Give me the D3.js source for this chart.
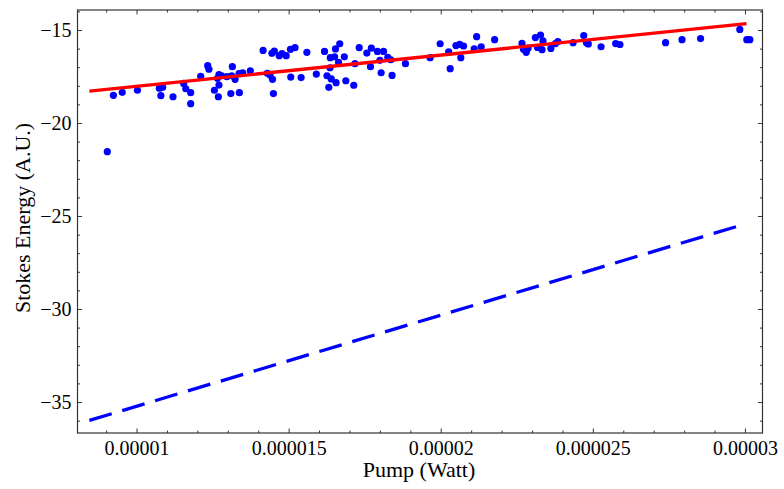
<!DOCTYPE html>
<html>
<head>
<meta charset="utf-8">
<script src="https://cdn.jsdelivr.net/npm/d3@7"></script>
<style>
  html, body { margin: 0; padding: 0; background: #fff; }
  svg { display: block; }
  svg text { font-family: "Liberation Serif", "DejaVu Serif", serif !important; fill: #000; }
</style>
</head>
<body>
<svg id="chart" width="784" height="489"></svg>
<script>
// Measured points: pump power (W) and Stokes energy (A.U.)
const pumpW = [
  9.04e-6, 9.24e-6, 9.53e-6, 10.03e-6, 10.75e-6, 10.86e-6, 10.80e-6, 11.20e-6, 11.55e-6, 11.62e-6,
  11.78e-6, 11.78e-6, 12.11e-6, 12.34e-6, 12.38e-6, 12.56e-6, 12.69e-6, 12.66e-6, 12.71e-6, 12.71e-6,
  12.80e-6, 12.97e-6, 13.13e-6, 13.15e-6, 13.24e-6, 13.10e-6, 13.38e-6, 13.37e-6, 13.49e-6, 13.74e-6,
  14.16e-6, 14.30e-6, 14.39e-6, 14.47e-6, 14.50e-6, 14.45e-6, 14.53e-6, 14.69e-6, 14.78e-6, 14.92e-6,
  15.06e-6, 15.21e-6, 15.07e-6, 15.41e-6, 15.60e-6, 15.91e-6, 16.18e-6, 16.26e-6, 16.37e-6, 16.36e-6,
  16.40e-6, 16.32e-6, 16.51e-6, 16.54e-6, 16.68e-6, 16.56e-6, 16.64e-6, 16.83e-6, 16.88e-6, 17.14e-6,
  17.18e-6, 17.32e-6, 17.57e-6, 17.72e-6, 17.69e-6, 17.92e-6, 18.12e-6, 18.00e-6, 18.04e-6, 18.26e-6,
  18.36e-6, 18.40e-6, 18.84e-6, 19.65e-6, 19.98e-6, 20.26e-6, 20.31e-6, 20.50e-6, 20.62e-6, 20.75e-6,
  20.66e-6, 21.10e-6, 21.18e-6, 21.33e-6, 21.77e-6, 22.67e-6, 22.72e-6, 22.81e-6, 22.87e-6, 23.11e-6,
  23.28e-6, 23.36e-6, 23.18e-6, 23.33e-6, 23.62e-6, 23.77e-6, 23.85e-6, 24.35e-6, 24.70e-6, 24.79e-6,
  24.85e-6, 25.27e-6, 25.75e-6, 25.89e-6, 27.39e-6, 27.93e-6, 28.54e-6, 29.83e-6, 30.06e-6, 30.16e-6
];
const stokes = [
  -21.54, -18.51, -18.35, -18.24, -18.13, -18.08, -18.53, -18.59, -17.87, -18.16,
  -18.37, -18.96, -17.49, -16.92, -17.11, -18.24, -18.59, -17.60, -17.40, -17.96,
  -17.46, -17.51, -17.46, -16.97, -17.65, -18.42, -18.37, -17.35, -17.30, -17.19,
  -16.10, -17.33, -17.42, -17.65, -18.42, -16.25, -16.13, -16.38, -16.27, -16.38,
  -16.04, -15.95, -17.53, -17.56, -16.20, -17.37, -16.15, -17.46, -16.49, -17.03,
  -17.63, -18.08, -16.44, -16.02, -15.74, -17.83, -16.74, -16.44, -17.73, -17.97,
  -16.81, -15.95, -16.24, -15.98, -16.97, -16.15, -16.15, -16.63, -17.30, -16.47,
  -16.60, -17.44, -16.81, -16.49, -15.74, -16.17, -17.08, -15.84, -15.77, -15.86,
  -16.49, -16.01, -15.36, -15.90, -15.52, -15.72, -16.04, -16.20, -15.98, -15.41,
  -15.27, -15.59, -15.94, -16.06, -15.99, -15.73, -15.62, -15.68, -15.30, -15.68,
  -15.75, -15.90, -15.73, -15.78, -15.68, -15.52, -15.46, -14.97, -15.52, -15.52
];

// Fitted line (red) and theory line (blue dashed): endpoints
const fitX = [8.45e-6, 3.005e-5];
const fitY = [-18.29, -14.66];
const theoryX = [8.45e-6, 3.005e-5];
const theoryY = [-35.99, -25.41];

// Axes
const xDomain = [8.06e-6, 3.0576e-5];
const yDomain = [-36.667, -13.925];
const xMajorTicks = [1e-5, 1.5e-5, 2e-5, 2.5e-5, 3e-5];
const xTickLabels = ["0.00001", "0.000015", "0.00002", "0.000025", "0.00003"];
const yMajorTicks = [-35, -30, -25, -20, -15];
const yTickLabels = ["\u221235", "\u221230", "\u221225", "\u221220", "\u221215"];
const xLabel = "Pump (Watt)";
const yLabel = "Stokes Energy (A.U.)";

const svg = d3.select("#chart");
const L = 77.5, R = 762.5, T = 10, B = 433;
const x = d3.scaleLinear().domain(xDomain).range([L, R]);
const y = d3.scaleLinear().domain(yDomain).range([B, T]);

const xMinor = d3.range(9, 31).map(v => v * 1e-6).filter(v => !xMajorTicks.some(m => Math.abs(m - v) < 1e-9));
const yMinor = d3.range(-36, -13).filter(v => !yMajorTicks.includes(v));

const frameColor = "#333";
const majorLen = 4.5, minorLen = 2.5;
const serif = "Liberation Serif, DejaVu Serif, serif";

// Data line layers
const line = d3.line().x(d => x(d[0])).y(d => y(d[1]));

svg.append("path")
  .datum(theoryX.map((v, i) => [v, theoryY[i]]))
  .attr("d", line)
  .attr("fill", "none")
  .attr("stroke", "#0000ff")
  .attr("stroke-width", 3.3)
  .attr("stroke-dasharray", "23.3,11");

svg.append("g").selectAll("circle")
  .data(pumpW.map((v, i) => [v, stokes[i]]))
  .join("circle")
  .attr("cx", d => x(d[0]))
  .attr("cy", d => y(d[1]))
  .attr("r", 3.6)
  .attr("fill", "#0000ff");

svg.append("path")
  .datum(fitX.map((v, i) => [v, fitY[i]]))
  .attr("d", line)
  .attr("fill", "none")
  .attr("stroke", "#ff0000")
  .attr("stroke-width", 3.3);

// Frame axes using d3 axes (ticks inward)
function frameAxis(axisFn, scale, ticks, len, labels, transform) {
  const a = axisFn(scale).tickValues(ticks).tickSizeInner(-len).tickSizeOuter(0);
  if (labels) a.tickFormat((d, i) => labels[i]); else a.tickFormat("");
  const g = svg.append("g").attr("transform", transform).attr("font-family", serif).call(a);
  g.attr("font-family", serif);
  g.select(".domain").remove();
  g.selectAll("line").attr("stroke", frameColor).attr("stroke-width", 1);
  return g;
}

// bottom
const gb = frameAxis(d3.axisBottom, x, xMajorTicks, majorLen, xTickLabels, `translate(0,${B})`);
gb.selectAll("text").attr("font-size", 20).attr("y", 8).attr("dy", "0.71em")
  .attr("font-family", serif).attr("fill", "#000");
frameAxis(d3.axisBottom, x, xMinor, minorLen, null, `translate(0,${B})`);
// top
frameAxis(d3.axisTop, x, xMajorTicks, majorLen, null, `translate(0,${T})`);
frameAxis(d3.axisTop, x, xMinor, minorLen, null, `translate(0,${T})`);
// left
const gl = frameAxis(d3.axisLeft, y, yMajorTicks, majorLen, yTickLabels, `translate(${L},0)`);
gl.selectAll("text").attr("font-size", 20).attr("x", -6).attr("dy", "0.34em")
  .attr("font-family", serif).attr("fill", "#000");
frameAxis(d3.axisLeft, y, yMinor, minorLen, null, `translate(${L},0)`);
// right
frameAxis(d3.axisRight, y, yMajorTicks, majorLen, null, `translate(${R},0)`);
frameAxis(d3.axisRight, y, yMinor, minorLen, null, `translate(${R},0)`);

svg.append("rect")
  .attr("x", L).attr("y", T).attr("width", R - L).attr("height", B - T)
  .attr("fill", "none").attr("stroke", frameColor).attr("stroke-width", 1.2);

// Axis labels
svg.append("text")
  .attr("x", 419).attr("y", 477)
  .attr("text-anchor", "middle").attr("font-size", 22).attr("font-family", serif)
  .text(xLabel);

svg.append("text")
  .attr("transform", `translate(30,218) rotate(-90)`)
  .attr("text-anchor", "middle").attr("font-size", 22).attr("font-family", serif)
  .text(yLabel);
</script>
</body>
</html>
